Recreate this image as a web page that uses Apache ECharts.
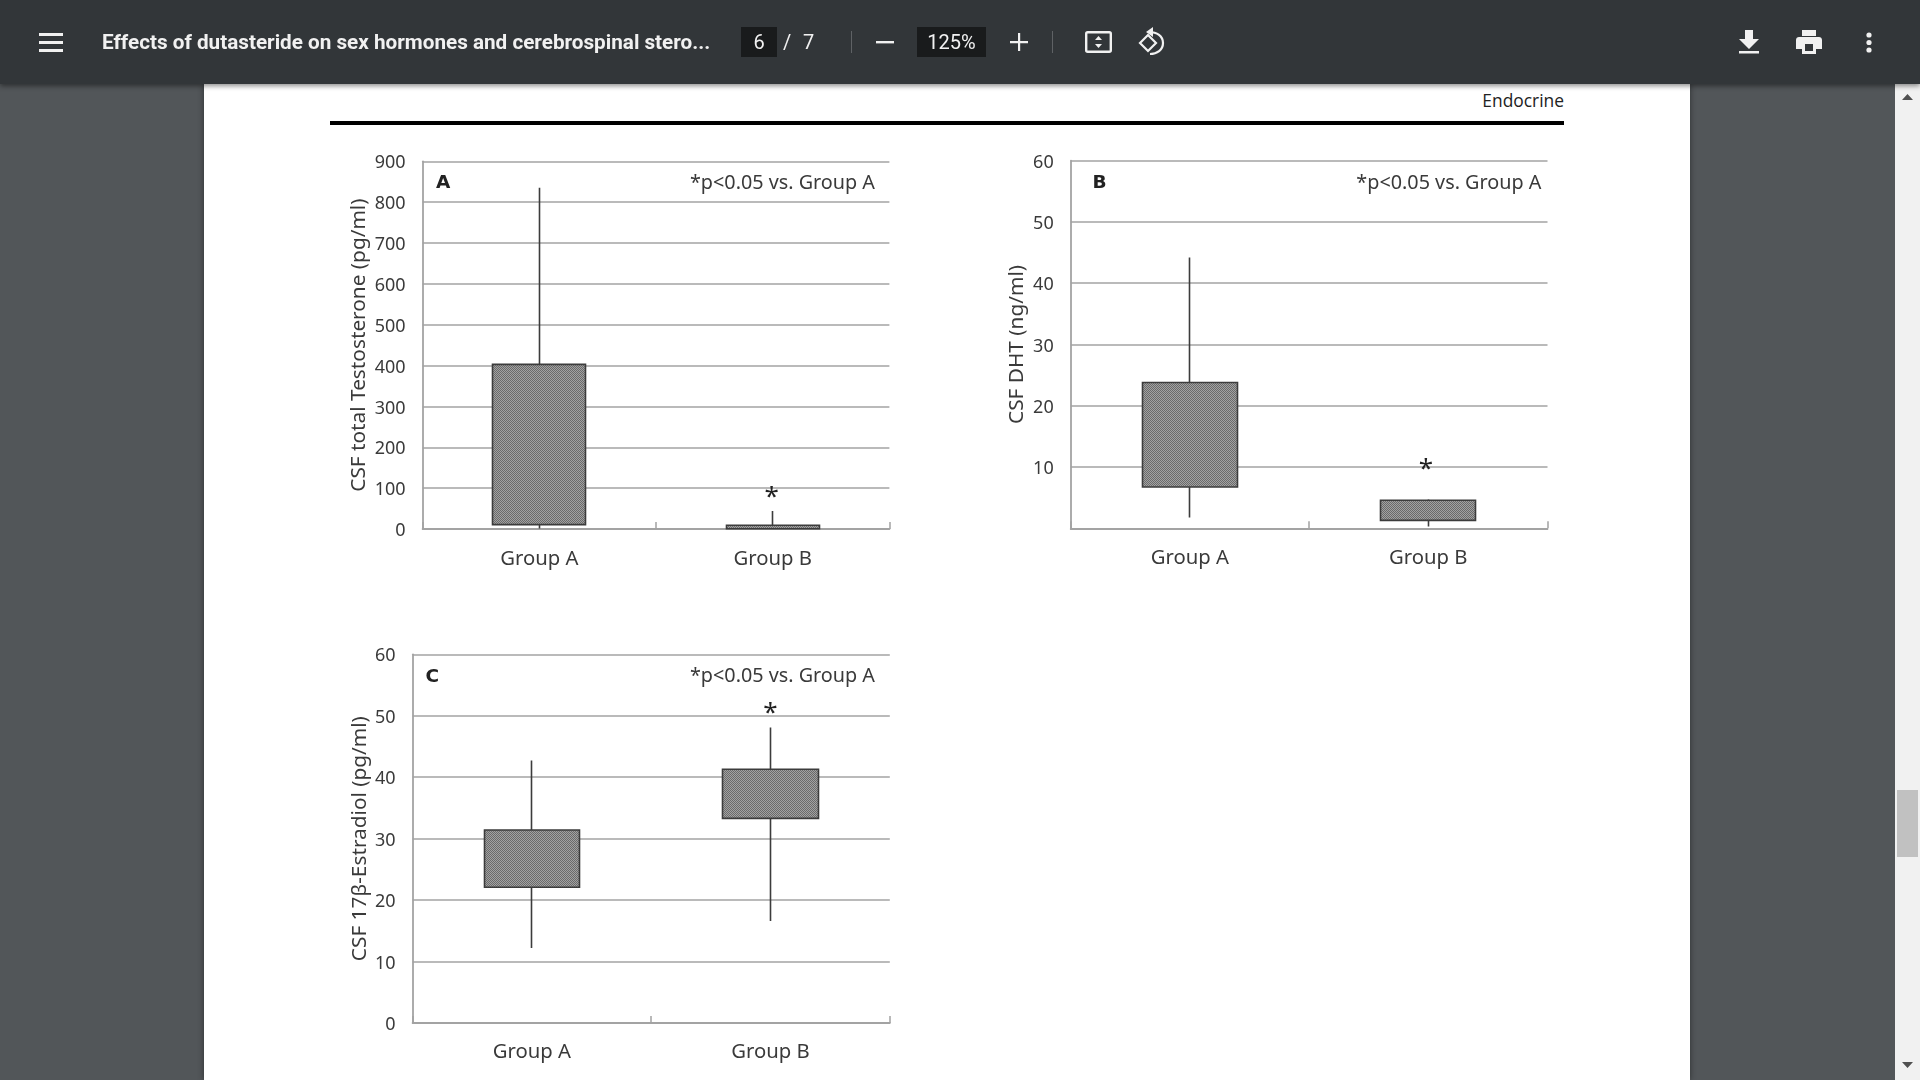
<!DOCTYPE html>
<html><head><meta charset="utf-8">
<style>
html,body{margin:0;padding:0;width:1920px;height:1080px;overflow:hidden;background:#525659;font-family:Roboto,sans-serif}
#page{position:absolute;left:204px;top:84px;width:1486px;height:996px;background:#fff;box-shadow:0 0 6px rgba(0,0,0,.45)}
#chart{position:absolute;left:0;top:0;width:1920px;height:1080px}
#bar{position:absolute;left:0;top:0;width:1920px;height:84px;background:#323639;box-shadow:0 2px 5px rgba(0,0,0,.45);color:#fff}
#bar div,#bar svg{position:absolute}
.t{font-size:20px;line-height:24px;top:30px;color:#f1f1f1}
.box{background:#191b1c}
.sep{width:1px;background:#5f6265;top:31px;height:22px}
#sb{position:absolute;left:1895px;top:84px;width:25px;height:996px;background:#f1f1f1}
#thumb{position:absolute;left:1897px;top:790px;width:21px;height:67px;background:#c1c1c1}
#rule{position:absolute;left:330px;top:120.5px;width:1234px;height:4px;background:#000}
#endo{position:absolute;right:356px;top:87.5px;font:17.4px/25px "Open Sans",sans-serif;color:#222}
</style></head><body>
<div id="page"></div>
<div id="rule"></div>
<div id="endo">Endocrine</div>
<div id="chart"></div>
<div id="sb"></div><div id="thumb"></div>
<svg style="position:absolute;left:1895px;top:84px" width="25" height="996"><path d="M7 16 L12.5 10 L18 16Z M7 978 L12.5 984 L18 978Z" fill="#505050"/></svg>
<div id="bar">
<svg style="left:39px;top:33px" width="24" height="20"><path d="M0 0h24v3H0zM0 8h24v3H0zM0 16h24v3H0z" fill="#f1f1f1"/></svg>
<div class="t" style="left:102px;font-size:20.7px;font-weight:700;white-space:nowrap">Effects of dutasteride on sex hormones and cerebrospinal stero...</div>
<div class="box" style="left:741px;top:27px;width:36px;height:30px"></div>
<div class="t" style="left:741px;width:36px;text-align:center">6</div>
<div class="t" style="left:783px">/</div>
<div class="t" style="left:803px">7</div>
<div class="sep" style="left:851px"></div>
<svg style="left:876px;top:33px" width="18" height="18"><path d="M0 8h18v2.4H0z" fill="#f1f1f1"/></svg>
<div class="box" style="left:917px;top:27px;width:69px;height:30px"></div>
<div class="t" style="left:917px;width:69px;text-align:center">125%</div>
<svg style="left:1010px;top:33px" width="18" height="18"><path d="M0 8h8V0h2.2v8H18v2.2H10.2V18H8V10.2H0z" fill="#f1f1f1"/></svg>
<div class="sep" style="left:1052px"></div>
<svg style="left:1085px;top:31px" width="27" height="22"><rect x="1.2" y="1.2" width="24.6" height="19.6" rx="1.5" fill="none" stroke="#f1f1f1" stroke-width="2.4"/><path d="M13.5 5l3.5 4h-7zM13.5 17l3.5-4h-7z" fill="#f1f1f1"/></svg>
<svg style="left:1138px;top:27px" width="28" height="29"><path d="M2 16l8-8 8 8-8 8z" fill="none" stroke="#f1f1f1" stroke-width="2.2"/><path d="M11 5c8 0 14 4 14 11s-6 11-13 11" fill="none" stroke="#f1f1f1" stroke-width="2.2"/><path d="M15 0v10l-7-5z" fill="#f1f1f1"/></svg>
<svg style="left:1739px;top:30px" width="20" height="24"><path d="M6 0h8v9h6L10 19 0 9h6zM0 21h20v2.5H0z" fill="#f1f1f1"/></svg>
<svg style="left:1796px;top:30px" width="26" height="24"><path d="M6 0h14v6H6zM3 7h20c1.7 0 3 1.3 3 3v9h-6v5H6v-5H0v-9c0-1.700 1.300-3 3-3zM9 14v7h8v-7z" fill="#f1f1f1"/></svg>
<svg style="left:1865px;top:32px" width="8" height="22"><circle cx="4" cy="3" r="2.6" fill="#f1f1f1"/><circle cx="4" cy="10.500" r="2.6" fill="#f1f1f1"/><circle cx="4" cy="18" r="2.6" fill="#f1f1f1"/></svg>
</div>
<script src="https://cdn.jsdelivr.net/npm/echarts@6/dist/echarts.min.js"></script>
<script>
const categories = ['Group A', 'Group B'];
// [q1, q3, low, high]
const boxesA = [[10.6, 403, 1, 835], [0.5, 9, 0, 44]];
const boxesB = [[6.75, 23.8, 1.75, 44.2], [1.3, 4.57, 0.3, 4.73]];
const boxesC = [[22.1, 31.4, 12.2, 42.7], [33.3, 41.3, 16.6, 48.1]];
const starA = [['Group B', 87]];
const starB = [['Group B', 10.3]];
const starC = [['Group B', 51]];
const axisTopA = 900, axisStepA = 100;
const axisTopB = 60, axisStepB = 10;
const axisTopC = 60, axisStepC = 10;
const yNameA = 'CSF total Testosterone (pg/ml)';
const yNameB = 'CSF DHT (ng/ml)';
const yNameC = 'CSF 17β-Estradiol (pg/ml)';
const noteText = '*p<0.05 vs. Group A';
const panelLetters = ['A', 'B', 'C'];

const FONT = '"Noto Sans", sans-serif';
const TXT = '#3a3a3a', GRID = '#a3a3a3', EDGE = '#3c3c3c';

const pc = document.createElement('canvas'); pc.width = 2; pc.height = 2;
const c2 = pc.getContext('2d');
c2.fillStyle = '#a2a2a2'; c2.fillRect(0, 0, 2, 2);
c2.fillStyle = '#6a6a6a'; c2.fillRect(0, 0, 1, 1); c2.fillRect(1, 1, 1, 1);
const hatch = { image: pc, repeat: 'repeat' };

const grids = [
  { left: 422.6, top: 161.3, width: 466.8, height: 367.7 },
  { left: 1070.7, top: 160.7, width: 476.8, height: 367.6 },
  { left: 412.6, top: 654.3, width: 477.2, height: 368.7 }
];
const yDefs = [
  { max: axisTopA, step: axisStepA, name: yNameA, gap: 63.2, showMin: true },
  { max: axisTopB, step: axisStepB, name: yNameB, gap: 54, showMin: false },
  { max: axisTopC, step: axisStepC, name: yNameC, gap: 53, showMin: true }
];
const xMargins = [20, 20, 19];
const allBoxes = [boxesA, boxesB, boxesC];
const allStars = [starA, starB, starC];
const starShift = [-1, -2.5, 0];

const series = [];
allBoxes.forEach((d, i) => {
  series.push({
    type: 'candlestick', xAxisIndex: i, yAxisIndex: i, data: d, barWidth: '40.2%', z: 5, silent: true,
    itemStyle: { color: hatch, color0: hatch, borderColor: EDGE, borderColor0: EDGE, borderColorDoji: EDGE, borderWidth: 1.6 }
  });
  series.push({
    type: 'scatter', xAxisIndex: i, yAxisIndex: i, data: allStars[i], symbolSize: 1, z: 6, silent: true,
    itemStyle: { opacity: 0 },
    label: { show: true, position: 'inside', formatter: '*', offset: [starShift[i], 4], fontFamily: FONT, fontSize: 26, color: '#222', opacity: 1 }
  });
});

const noteSpots = [[875, 183.5], [1541.4, 183.5], [875, 676.5]];
const letterSpots = [[436, 183], [1092.5, 183], [425.5, 677]];
const graphic = [];
noteSpots.forEach(p => graphic.push({ type: 'text', x: p[0], y: p[1], z: 10, style: { text: noteText, fontFamily: FONT, fontSize: 19.8, fill: TXT, align: 'right', verticalAlign: 'middle' } }));
letterSpots.forEach((p, i) => graphic.push({ type: 'text', x: p[0], y: p[1], z: 10, style: { text: panelLetters[i], fontFamily: '"DejaVu Sans", sans-serif', fontWeight: 'bold', fontSize: 18.5, fill: '#222', align: 'left', verticalAlign: 'middle' } }));

const chart = echarts.init(document.getElementById('chart'), null, { renderer: 'canvas', width: 1920, height: 1080 });
chart.setOption({
  backgroundColor: 'transparent',
  animation: false,
  tooltip: { show: false },
  grid: grids,
  xAxis: grids.map((g, i) => ({
    type: 'category', gridIndex: i, data: categories, boundaryGap: true,
    axisLine: { show: true, lineStyle: { color: GRID, width: 1.8 } },
    axisTick: { show: true, inside: true, length: 7, lineStyle: { color: GRID, width: 1.5 } },
    axisLabel: { show: true, fontFamily: FONT, fontSize: 20.3, color: TXT, margin: xMargins[i] },
    splitLine: { show: false }
  })),
  yAxis: yDefs.map((y, i) => ({
    type: 'value', gridIndex: i, min: 0, max: y.max, interval: y.step,
    name: y.name, nameLocation: 'middle', nameGap: y.gap, nameRotate: 90,
    nameTextStyle: { fontFamily: FONT, fontSize: 20.8, color: TXT, verticalAlign: 'middle' },
    axisLine: { show: true, lineStyle: { color: GRID, width: 1.8 } },
    axisTick: { show: false },
    axisLabel: { show: true, showMinLabel: y.showMin, fontFamily: FONT, fontSize: 18, color: TXT, margin: 17, verticalAlign: 'top', lineHeight: 4 },
    splitLine: { show: true, lineStyle: { color: GRID, width: 1.6 } }
  })),
  series,
  graphic
});
</script>
</body></html>
